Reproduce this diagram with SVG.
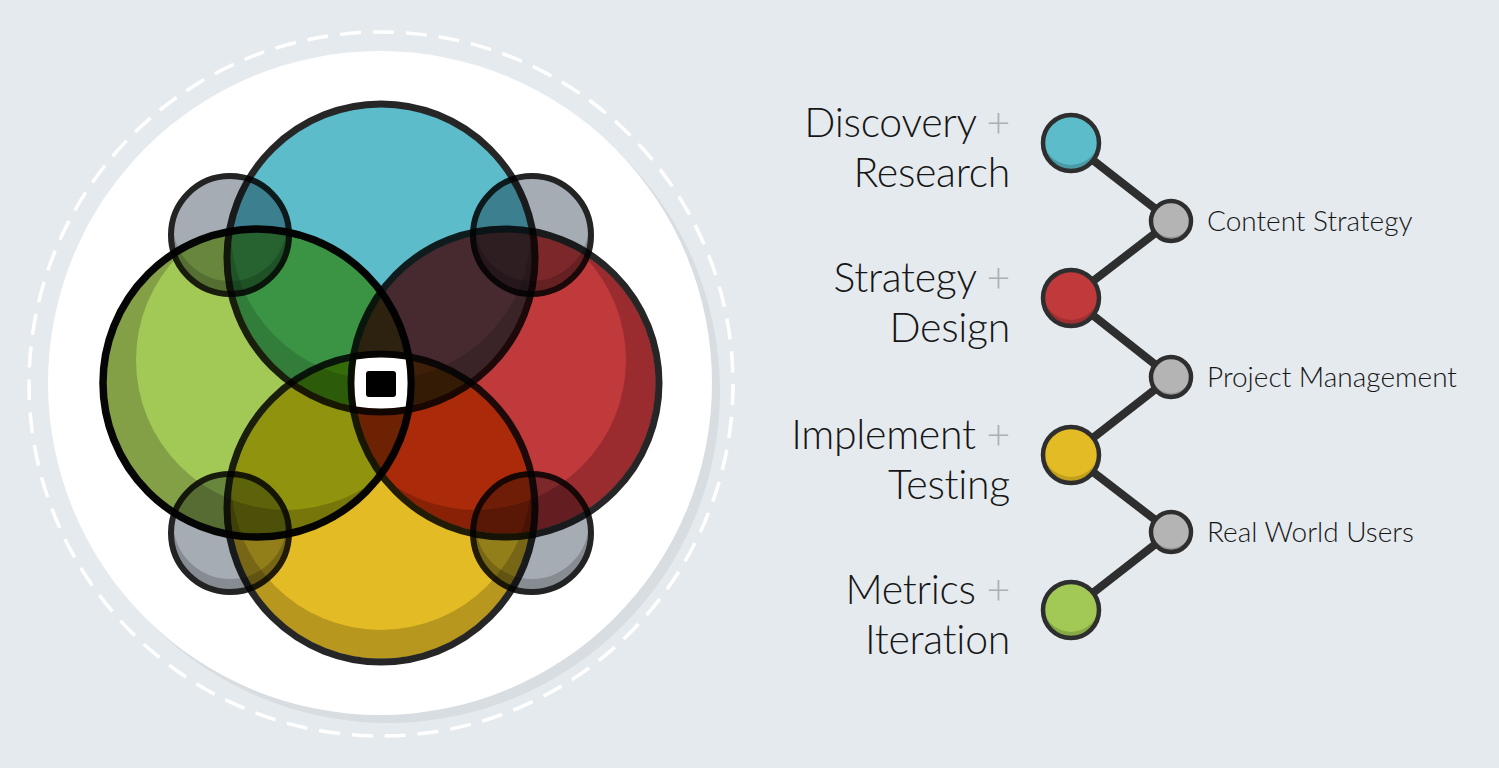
<svg xmlns="http://www.w3.org/2000/svg" width="1499" height="768" viewBox="0 0 1499 768">
<style>
.m{mix-blend-mode:multiply}
.big{fill:none;stroke:#262626;stroke-width:7}
.sm{fill:none;stroke:#232323;stroke-width:6}
.lbl{font-family:Lato,Roboto,"Liberation Sans",sans-serif;font-weight:300;fill:#161616}
.big-t{font-size:41px;text-anchor:end;letter-spacing:-0.3px}
.plus{fill:#aab0b6}
.sub{font-size:28px}
.tn{stroke:#2e2e2e;stroke-width:4.5}
.conn{fill:none;stroke:#2e2e2e;stroke-width:8;stroke-linejoin:round}
</style>
<defs>
<clipPath id="cB"><circle cx="381" cy="258" r="151"/></clipPath>
<clipPath id="cG"><circle cx="257" cy="383" r="151"/></clipPath>
<clipPath id="cR"><circle cx="505" cy="383" r="151"/></clipPath>
<clipPath id="cY"><circle cx="381" cy="508" r="151"/></clipPath>
<clipPath id="s1"><circle cx="230" cy="235" r="59"/></clipPath>
<clipPath id="s2"><circle cx="532" cy="235" r="59"/></clipPath>
<clipPath id="s3"><circle cx="230" cy="533" r="59"/></clipPath>
<clipPath id="s4"><circle cx="532" cy="533" r="59"/></clipPath>
<clipPath id="t1"><circle cx="1071" cy="143" r="28"/></clipPath>
<clipPath id="t2"><circle cx="1071" cy="298" r="28"/></clipPath>
<clipPath id="t3"><circle cx="1071" cy="455" r="28"/></clipPath>
<clipPath id="t4"><circle cx="1071" cy="610" r="28"/></clipPath>
<clipPath id="g1"><circle cx="1171" cy="221" r="20"/></clipPath>
<clipPath id="g2"><circle cx="1171" cy="377" r="20"/></clipPath>
<clipPath id="g3"><circle cx="1171" cy="532" r="20"/></clipPath>
</defs>
<rect width="1499" height="768" fill="#e5eaee"/>
<g id="venn" style="isolation:isolate">
<circle cx="388" cy="391" r="332" fill="#d8dde2"/>
<circle cx="380" cy="383" r="332" fill="#ffffff"/>
<circle cx="381" cy="384" r="352" fill="none" stroke="#ffffff" stroke-width="3.5" stroke-dasharray="21 12"/>
<g id="discovery-circle" class="m">
<circle cx="381" cy="258" r="151" fill="#4d9fab"/>
<circle cx="381" cy="230" r="150" fill="#5dbcca" clip-path="url(#cB)"/>
<circle cx="381" cy="258" r="154" class="big"/>
</g>
<g id="metrics-circle" class="m">
<circle cx="257" cy="383" r="151" fill="#84a047"/>
<circle cx="286" cy="360" r="150" fill="#a2c855" clip-path="url(#cG)"/>
<circle cx="257" cy="383" r="154" class="big" style="stroke:#060606;stroke-width:7.5"/>
</g>
<g id="strategy-circle" class="m">
<circle cx="505" cy="383" r="151" fill="#9a2c30"/>
<circle cx="476" cy="360" r="150" fill="#c0393b" clip-path="url(#cR)"/>
<circle cx="505" cy="383" r="154" class="big"/>
</g>
<g id="implement-circle" class="m">
<circle cx="381" cy="508" r="151" fill="#b8971e"/>
<circle cx="381" cy="480" r="150" fill="#e3bc25" clip-path="url(#cY)"/>
<circle cx="381" cy="508" r="154" class="big"/>
</g>
<g id="small-tl" class="m">
<circle cx="230" cy="235" r="59" fill="#868c91"/>
<circle cx="230" cy="224" r="57" fill="#a5acb3" clip-path="url(#s1)"/>
<circle cx="230" cy="235" r="59" class="sm"/>
</g>
<g id="small-tr" class="m">
<circle cx="532" cy="235" r="59" fill="#868c91"/>
<circle cx="532" cy="224" r="57" fill="#a5acb3" clip-path="url(#s2)"/>
<circle cx="532" cy="235" r="59" class="sm"/>
</g>
<g id="small-bl" class="m">
<circle cx="230" cy="533" r="59" fill="#868c91"/>
<circle cx="230" cy="522" r="57" fill="#a5acb3" clip-path="url(#s3)"/>
<circle cx="230" cy="533" r="59" class="sm"/>
</g>
<g id="small-br" class="m">
<circle cx="532" cy="533" r="59" fill="#868c91"/>
<circle cx="532" cy="522" r="57" fill="#a5acb3" clip-path="url(#s4)"/>
<circle cx="532" cy="533" r="59" class="sm"/>
</g>
<g id="center">
<path d="M356.3 359.5 A150.5 150.5 0 0 1 405.7 359.5 A150.5 150.5 0 0 1 405.7 406.5 A150.5 150.5 0 0 1 356.3 406.5 A150.5 150.5 0 0 1 356.3 359.5 Z" fill="#ffffff"/>
<rect x="366" y="371" width="30" height="26" rx="3" fill="#000000"/>
</g>
</g>
<g id="connectors">
<polyline class="conn" points="1071,143 1171,221 1071,298 1171,377 1071,455 1171,532 1071,610"/>
</g>
<g id="node-discovery">
<circle cx="1071" cy="143" r="28" fill="#4a9ba6"/>
<circle cx="1071" cy="137" r="28" fill="#5dbcca" clip-path="url(#t1)"/>
<circle cx="1071" cy="143" r="28" fill="none" class="tn"/>
<text class="lbl big-t" x="1010" y="137">Discovery <tspan class="plus">+</tspan></text>
<text class="lbl big-t" x="1010" y="187">Research</text>
</g>
<g id="node-content">
<circle cx="1171" cy="221" r="20" fill="#969696"/>
<circle cx="1171" cy="217" r="20" fill="#b4b4b4" clip-path="url(#g1)"/>
<circle cx="1171" cy="221" r="20" fill="none" class="tn"/>
<text class="lbl sub" x="1207" y="231">Content Strategy</text>
</g>
<g id="node-strategy">
<circle cx="1071" cy="298" r="28" fill="#a02f31"/>
<circle cx="1071" cy="292" r="28" fill="#c0393b" clip-path="url(#t2)"/>
<circle cx="1071" cy="298" r="28" fill="none" class="tn"/>
<text class="lbl big-t" x="1010" y="292">Strategy <tspan class="plus">+</tspan></text>
<text class="lbl big-t" x="1010" y="342">Design</text>
</g>
<g id="node-project">
<circle cx="1171" cy="377" r="20" fill="#969696"/>
<circle cx="1171" cy="373" r="20" fill="#b4b4b4" clip-path="url(#g2)"/>
<circle cx="1171" cy="377" r="20" fill="none" class="tn"/>
<text class="lbl sub" x="1207" y="387">Project Management</text>
</g>
<g id="node-implement">
<circle cx="1071" cy="455" r="28" fill="#c09f1c"/>
<circle cx="1071" cy="449" r="28" fill="#e3bc25" clip-path="url(#t3)"/>
<circle cx="1071" cy="455" r="28" fill="none" class="tn"/>
<text class="lbl big-t" x="1010" y="449">Implement <tspan class="plus">+</tspan></text>
<text class="lbl big-t" x="1010" y="499">Testing</text>
</g>
<g id="node-users">
<circle cx="1171" cy="532" r="20" fill="#969696"/>
<circle cx="1171" cy="528" r="20" fill="#b4b4b4" clip-path="url(#g3)"/>
<circle cx="1171" cy="532" r="20" fill="none" class="tn"/>
<text class="lbl sub" x="1207" y="542">Real World Users</text>
</g>
<g id="node-metrics">
<circle cx="1071" cy="610" r="28" fill="#86a845"/>
<circle cx="1071" cy="604" r="28" fill="#a2c855" clip-path="url(#t4)"/>
<circle cx="1071" cy="610" r="28" fill="none" class="tn"/>
<text class="lbl big-t" x="1010" y="604">Metrics <tspan class="plus">+</tspan></text>
<text class="lbl big-t" x="1010" y="654">Iteration</text>
</g>
</svg>
